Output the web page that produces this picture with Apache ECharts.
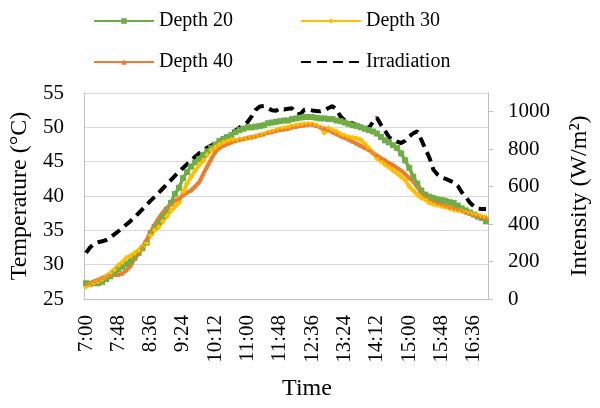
<!DOCTYPE html>
<html>
<head>
<meta charset="utf-8">
<script src="https://cdn.jsdelivr.net/npm/echarts@6.0.0/dist/echarts.min.js"></script>
<style>
  html, body { margin: 0; padding: 0; background: #fff; }
  #chart { width: 600px; height: 408px; }
</style>
</head>
<body>
<div id="chart"></div>
<script>
// time of day, one reading every 6 minutes from 7:00
const times = [];
for (let k = 0; k < 100; k++) {
    const m = 420 + k * 6;
    times.push(Math.floor(m / 60) + ':' + String(m % 60).padStart(2, '0'));
}

// soil temperature (°C)
const depth20 = [
    27.3, 27.2, 27.3, 27.3, 27.5, 27.9, 28.3, 28.8, 29.3, 29.7,
    30.1, 30.5, 31.0, 31.7, 32.4, 33.2, 34.6, 35.5, 36.2, 37.0,
    38.0, 39.0, 40.3, 41.2, 42.6, 43.5, 44.3, 44.9, 45.4, 46.0,
    46.5, 47.0, 47.5, 48.0, 48.3, 48.6, 48.9, 49.3, 49.6, 49.8,
    50.0, 50.0, 50.1, 50.2, 50.3, 50.6, 50.7, 50.8, 50.9, 51.0,
    51.0, 51.2, 51.3, 51.4, 51.5, 51.5, 51.5, 51.4, 51.3, 51.3,
    51.2, 51.2, 51.0, 50.9, 50.7, 50.5, 50.3, 50.2, 50.0, 49.8,
    49.6, 49.4, 49.1, 48.6, 48.1, 47.8, 47.4, 47.0, 46.2, 45.2,
    44.1, 42.8, 41.8, 40.8, 40.2, 39.9, 39.7, 39.5, 39.4, 39.3,
    39.1, 39.0, 38.6, 38.2, 37.9, 37.6, 37.3, 37.0, 36.8, 36.3
];
const depth30 = [
    26.8, 27.1, 27.4, 27.6, 27.9, 28.3, 28.8, 29.3, 29.9, 30.4,
    31.0, 31.3, 31.7, 32.1, 32.6, 33.2, 34.3, 35.0, 35.5, 36.3,
    37.0, 37.8, 38.4, 39.0, 40.6, 41.8, 42.8, 43.7, 44.5, 45.1,
    46.0, 46.7, 47.1, 47.5, 47.8, 48.0, 48.2, 48.1, 48.3, 48.3,
    48.4, 48.5, 48.7, 48.9, 49.0, 49.3, 49.4, 49.6, 49.8, 49.9,
    50.0, 50.2, 50.3, 50.4, 50.5, 50.5, 50.5, 50.3, 50.0, 49.2,
    49.9, 49.6, 49.4, 49.0, 48.8, 48.6, 48.5, 48.4, 48.2, 47.6,
    47.0, 46.2, 45.5, 45.1, 44.6, 44.2, 43.7, 43.3, 42.8, 42.3,
    41.4, 40.8, 40.2, 39.7, 39.5, 39.0, 38.8, 38.7, 38.5, 38.4,
    38.2, 38.0, 37.9, 37.8, 37.6, 37.5, 37.3, 37.2, 37.0, 36.9
];
const depth40 = [
    27.2, 27.3, 27.6, 27.8, 28.1, 28.3, 28.5, 28.5, 28.5, 28.7,
    29.2, 29.8, 30.9, 31.6, 32.6, 33.6, 34.8, 35.8, 36.8, 37.6,
    38.3, 38.8, 39.3, 39.6, 40.1, 40.5, 40.8, 41.4, 42.0, 43.2,
    44.3, 45.4, 46.4, 47.0, 47.3, 47.6, 47.8, 48.0, 48.2, 48.3,
    48.5, 48.6, 48.7, 48.9, 49.0, 49.2, 49.3, 49.5, 49.6, 49.7,
    49.8, 50.0, 50.1, 50.2, 50.3, 50.4, 50.4, 50.2, 50.0, 49.8,
    49.6, 49.3, 49.0, 48.7, 48.5, 48.2, 47.9, 47.6, 47.3, 47.0,
    46.7, 46.3, 45.9, 45.5, 45.2, 44.8, 44.5, 44.1, 43.7, 43.2,
    42.6, 42.1, 41.3, 40.5, 40.0, 39.6, 39.3, 39.0, 38.8, 38.6,
    38.4, 38.3, 38.1, 37.9, 37.6, 37.4, 37.2, 37.1, 36.9, 36.8
];
// solar irradiation (W/m²)
const irradiation = [
    246, 275, 295, 303, 308, 315, 328, 345, 362, 380,
    398, 416, 436, 458, 480, 502, 525, 546, 568, 590,
    612, 635, 658, 680, 700, 720, 740, 760, 778, 795,
    808, 820, 832, 843, 858, 872, 886, 900, 915, 930,
    945, 975, 1010, 1028, 1030, 1020, 1008, 1005, 1018, 1012,
    1016, 1018, 990, 985, 1010, 1012, 1007, 1004, 1002, 1008,
    1020, 1030, 1010, 975, 955, 945, 938, 930, 922, 918,
    912, 945, 968, 930, 898, 865, 848, 840, 833, 845,
    868, 885, 895, 850, 800, 755, 690, 665, 650, 642,
    632, 622, 605, 570, 545, 515, 495, 482, 480, 480
];
const intensityTicks = [0, 200, 400, 600, 800, 1000];

const font = "'Times New Roman', 'Liberation Serif', serif";
const chart = echarts.init(document.getElementById('chart'), null, { renderer: 'canvas' });

const legendBase = {
    orient: 'vertical',
    top: 4,
    itemWidth: 60,
    itemHeight: 7,
    itemGap: 17,
    textStyle: { fontFamily: font, fontSize: 20, color: '#000', lineHeight: 24 },
};

const option = {
    backgroundColor: '#fff',
    animation: false,
    legend: [
        Object.assign({ left: 88, data: ['Depth 20', 'Depth 40'] }, legendBase),
        Object.assign({ left: 295, data: ['Depth 30', { name: 'Irradiation', itemStyle: { opacity: 0 } }] }, legendBase),
    ],
    grid: { left: 80, right: 108, top: 93, bottom: 109, containLabel: false },
    xAxis: {
        type: 'category',
        data: times,
        boundaryGap: true,
        name: 'Time',
        nameLocation: 'middle',
        nameGap: 78,
        nameTextStyle: { fontFamily: font, fontSize: 24, color: '#000', padding: [0, 0, 0, 42] },
        axisLine: { lineStyle: { color: '#bfbfbf', width: 1 } },
        axisTick: { show: false },
        axisLabel: { interval: 7, rotate: 90, margin: 16, fontFamily: font, fontSize: 21, color: '#000' },
        splitLine: { show: false },
    },
    yAxis: [
        {
            type: 'value',
            min: 25,
            max: 55,
            interval: 5,
            name: 'Temperature (°C)',
            nameLocation: 'middle',
            nameRotate: 90,
            nameGap: 52,
            nameTextStyle: { fontFamily: font, fontSize: 24, color: '#000' },
            axisLine: { show: true, lineStyle: { color: '#bfbfbf', width: 1 } },
            axisTick: { show: false },
            axisLabel: { margin: 20, fontFamily: font, fontSize: 21, color: '#000' },
            splitLine: { lineStyle: { color: '#d9d9d9', width: 1 } },
        },
        {
            type: 'value',
            position: 'right',
            min: 0,
            max: 1100,
            interval: 200,
            name: 'Intensity (W/m²)',
            nameLocation: 'middle',
            nameRotate: 90,
            nameGap: 80,
            nameTextStyle: { fontFamily: font, fontSize: 24, color: '#000' },
            axisLine: { show: true, lineStyle: { color: '#bfbfbf', width: 1 } },
            axisTick: { show: true, length: 5, lineStyle: { color: '#bfbfbf' }, customValues: intensityTicks },
            axisLabel: {
                margin: 20, fontFamily: font, fontSize: 21, color: '#000',
                customValues: intensityTicks,
                formatter: (v) => String(v),
            },
            splitLine: { show: false },
        },
    ],
    series: [
        {
            name: 'Depth 20',
            type: 'line',
            data: depth20,
            symbol: 'rect',
            symbolSize: 6,
            showAllSymbol: true,
            itemStyle: { color: '#70ad47' },
            lineStyle: { color: '#70ad47', width: 3.5 },
        },
        {
            name: 'Depth 30',
            type: 'line',
            data: depth30,
            symbol: 'diamond',
            symbolSize: 6,
            showAllSymbol: true,
            itemStyle: { color: '#ffc000' },
            lineStyle: { color: '#ffc000', width: 3.5 },
        },
        {
            name: 'Depth 40',
            type: 'line',
            data: depth40,
            symbol: 'triangle',
            symbolSize: 4,
            showAllSymbol: true,
            itemStyle: { color: '#ed7d31' },
            lineStyle: { color: '#ed7d31', width: 4 },
        },
        {
            name: 'Irradiation',
            type: 'line',
            yAxisIndex: 1,
            data: irradiation,
            symbol: 'none',
            itemStyle: { color: '#000' },
            lineStyle: { color: '#000', width: 4, type: [10, 6], cap: 'butt' },
        },
    ],
};

chart.setOption(option);
</script>
</body>
</html>
